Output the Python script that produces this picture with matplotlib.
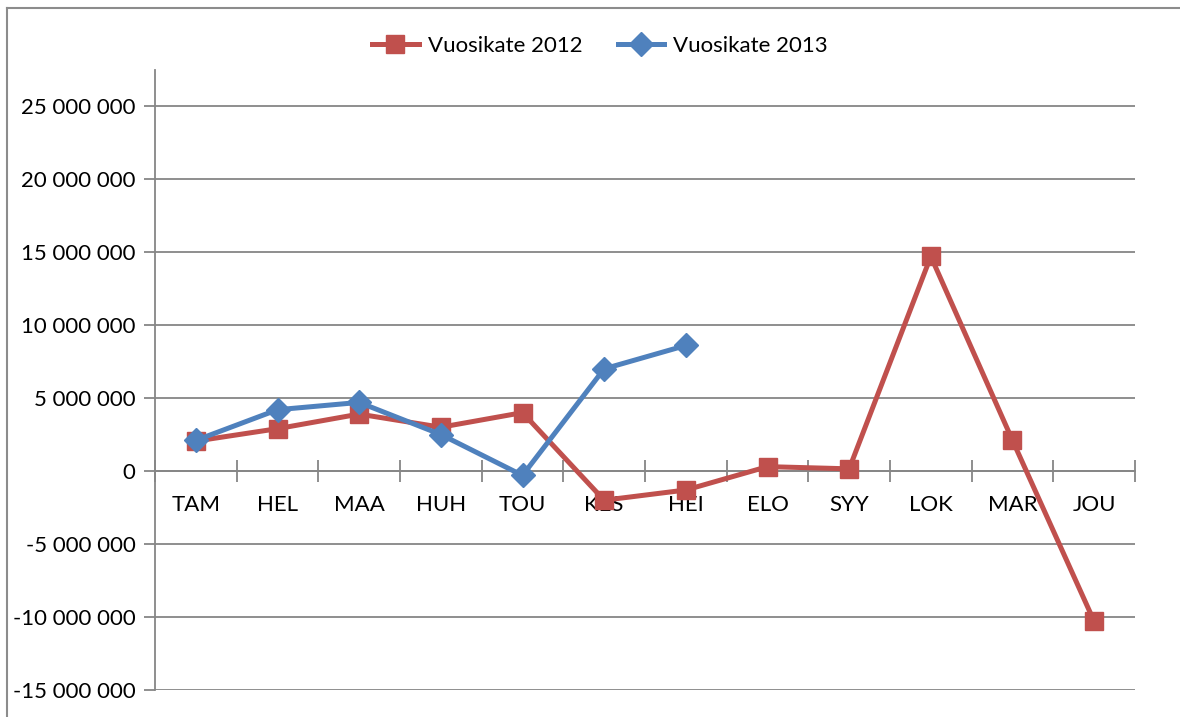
import matplotlib
matplotlib.use("Agg")
import matplotlib.pyplot as plt
from matplotlib.lines import Line2D
from matplotlib.ticker import FuncFormatter, FixedLocator
import numpy as np

plt.rcParams['font.family'] = ['Lato', 'DejaVu Sans']

months = ["TAM", "HEL", "MAA", "HUH", "TOU", "KES", "HEI", "ELO", "SYY", "LOK", "MAR", "JOU"]
vk2012 = [2.05e6, 2.9e6, 3.9e6, 3.0e6, 4.0e6, -2.0e6, -1.3e6, 0.3e6, 0.15e6, 14.7e6, 2.1e6, -10.3e6]
vk2013 = [2.1e6, 4.2e6, 4.7e6, 2.5e6, -0.3e6, 7.0e6, 8.6e6]
yticks = [-15e6, -10e6, -5e6, 0, 5e6, 10e6, 15e6, 20e6, 25e6]

red = "#C0504D"
blue = "#4F81BD"
grey = "#868686"

fig = plt.figure(figsize=(11.8, 7.17), dpi=100)
ax = fig.add_axes([155/1180, 1-690/717, (1135-155)/1180, (690-70)/717])

x = np.arange(len(months))
l1, = ax.plot(x, vk2012, color=red, lw=3.6, marker="s", ms=13.5, zorder=3)
l2, = ax.plot(x[:len(vk2013)], vk2013, color=blue, lw=3.6, marker="D", ms=12.5, zorder=4)

ax.set_xlim(-0.5, len(months) - 0.5)
ax.set_ylim(-15e6, 27.47e6)

def fmt(v, pos):
    s = "{:,.0f}".format(v).replace(",", " ")
    return s
ax.yaxis.set_major_locator(FixedLocator(yticks))
ax.yaxis.set_major_formatter(FuncFormatter(fmt))
ax.yaxis.grid(True, color=grey, lw=1.3)
ax.set_axisbelow(True)
ax.tick_params(axis="y", length=8, width=1.3, color=grey, pad=6, labelsize=16)

ax.set_xticks(x)
ax.set_xticklabels(months)
ax.set_xticks(np.arange(-0.5, len(months)), minor=True)
ax.tick_params(axis="x", which="major", length=0, pad=17.5, labelsize=16)
ax.tick_params(axis="x", which="minor", length=16, width=1.3, color=grey, direction="inout")

for s in ["top", "right"]:
    ax.spines[s].set_visible(False)
ax.spines["bottom"].set_position(("data", 0))
ax.spines["bottom"].set_color(grey)
ax.spines["bottom"].set_linewidth(1.3)
ax.spines["left"].set_color(grey)
ax.spines["left"].set_linewidth(1.3)

fig.legend([l1, l2], ["Vuosikate 2012", "Vuosikate 2013"], loc="center",
           bbox_to_anchor=(0.5 + 10/1180, 1-46/717), ncol=2, frameon=False, fontsize=16,
           handlelength=2.1, columnspacing=1.6, handletextpad=0.4)

# chart area border (left and top edges visible)
fig.add_artist(Line2D([7/1180, 7/1180], [0, 1-8/717], transform=fig.transFigure, color="#8C8C8C", lw=1.5))
fig.add_artist(Line2D([7/1180, 1], [1-8/717, 1-8/717], transform=fig.transFigure, color="#8C8C8C", lw=1.5))

fig.savefig("out.png", dpi=100)
